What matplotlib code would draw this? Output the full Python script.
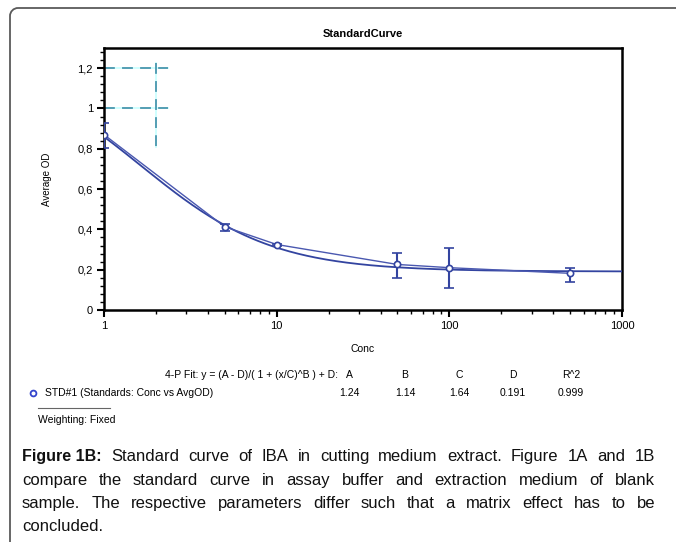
import matplotlib
matplotlib.use("Agg")
import matplotlib.pyplot as plt
import numpy as np
from matplotlib.patches import PathPatch
from matplotlib.path import Path
from matplotlib.ticker import FixedLocator, LogLocator, NullFormatter

plt.rcParams['font.family'] = ['Liberation Sans', 'DejaVu Sans']

# ---- data ----
conc = [1, 5, 10, 50, 100, 500]
avg_od = [0.870, 0.413, 0.325, 0.226, 0.210, 0.182]
err_lo = [0.066, 0.020, 0.006, 0.068, 0.101, 0.043]
err_hi = [0.056, 0.013, 0.004, 0.058, 0.099, 0.026]
fit_params = {"A": 1.24, "B": 1.14, "C": 1.64, "D": 0.191, "R^2": 0.999}
yticks = [0, 0.2, 0.4, 0.6, 0.8, 1.0, 1.2]
ytick_labels = ["0", "0,2", "0,4", "0,6", "0,8", "1", "1,2"]
xticks = [1, 10, 100, 1000]
xtick_labels = ["1", "10", "100", "1000"]
cross_h_y = [1.2, 1.0]
cross_h_x = [1, 2.36]
cross_v_x = 2.0
cross_v_y = [1.227, 0.81]

W, H = 676, 542
fig = plt.figure(figsize=(W / 100, H / 100), dpi=100)
fig.patch.set_facecolor("white")


def fx(px):
    return px / W


def fy(py):
    return 1 - py / H


# outer frame: left line + top line with a rounded corner
r = 8
k = 0.5523 * r
verts = [(10, H + 5), (10, 8 + r), (10, 8 + r - k), (10 + r - k, 8), (10 + r, 8), (W + 5, 8)]
codes = [Path.MOVETO, Path.LINETO, Path.CURVE4, Path.CURVE4, Path.CURVE4, Path.LINETO]
verts = [(fx(a), fy(b)) for a, b in verts]
fig.patches.append(PathPatch(Path(verts, codes), transform=fig.transFigure,
                             facecolor="none", edgecolor="#5a5a5a", lw=1.3))

ax = fig.add_axes([104 / W, (H - 310) / H, (622 - 104) / W, (310 - 48) / H])
ax.set_xscale("log")
ax.set_xlim(1, 1000)
ax.set_ylim(0, 1.3)

blue = "#3344a0"
# 4-PL fit curve
A, B, C, D = fit_params["A"], fit_params["B"], fit_params["C"], fit_params["D"]
xf = np.logspace(0, 3, 300)
yf = (A - D) / (1 + (xf / C) ** B) + D
ax.plot(xf, yf, color=blue, lw=1.3, zorder=3)
# point-connecting line
ax.plot(conc, avg_od, color="#4a58b0", lw=1.0, zorder=3)
ax.errorbar(conc, avg_od, yerr=[err_lo, err_hi], fmt="o", ms=4.5,
            mfc="white", mec=blue, mew=1.2, ecolor=blue, elinewidth=1.5,
            capsize=3.5, capthick=1.5, zorder=4)

# dashed cross marks
for yy in cross_h_y:
    ax.plot(cross_h_x, [yy, yy], color="#ccffff", lw=1.3, zorder=2)
    ax.plot(cross_h_x, [yy, yy], color="#4a96ae", lw=1.3, dashes=(6, 4), zorder=2)
ax.plot([cross_v_x] * 2, cross_v_y, color="#ccffff", lw=1.3, zorder=2)
ax.plot([cross_v_x] * 2, cross_v_y, color="#4a96ae", lw=1.3, dashes=(6, 4), zorder=2)

for s in ax.spines.values():
    s.set_linewidth(1.8)
ax.set_yticks(yticks)
ax.set_yticklabels(ytick_labels, fontsize=8)
ax.yaxis.set_minor_locator(FixedLocator(np.arange(0, 1.31, 0.04)))
ax.set_xticks(xticks)
ax.set_xticklabels(xtick_labels, fontsize=8)
ax.xaxis.set_minor_locator(LogLocator(base=10, subs=np.arange(2, 10)))
ax.xaxis.set_minor_formatter(NullFormatter())
ax.tick_params(which="major", direction="out", length=5, width=1.5, pad=3)
ax.tick_params(which="minor", direction="out", length=3, width=1.0)
ax.set_title("StandardCurve", fontsize=8, fontweight="bold", pad=8)
ax.set_xlabel("Conc", fontsize=7.5, labelpad=9)
ax.set_ylabel("Average OD", fontsize=7, labelpad=18, rotation=90)

# fit legend block
fig.text(fx(338), fy(375), "4-P Fit: y = (A - D)/( 1 + (x/C)^B ) + D:", fontsize=7.5,
         ha="right", va="center")
col_x = [349, 405, 459, 513, 571]
for cx, (kk, v) in zip(col_x, fit_params.items()):
    fig.text(fx(cx), fy(375), kk, fontsize=7.5, ha="center", va="center")
    fig.text(fx(cx), fy(393), f"{v:g}", fontsize=7.5, ha="center", va="center")
fig.text(fx(45), fy(393), "STD#1 (Standards: Conc vs AvgOD)", fontsize=7.5,
         ha="left", va="center")
fig.lines.append(plt.Line2D([fx(33)], [fy(393)], marker="o", ms=4.2, mfc="white",
                            mec="#3344cc", mew=1.3, transform=fig.transFigure))
fig.lines.append(plt.Line2D([fx(38), fx(110)], [fy(408), fy(408)], color="#666666",
                            lw=0.8, transform=fig.transFigure))
fig.text(fx(38), fy(420), "Weighting: Fixed", fontsize=7.5, ha="left", va="center")

# justified caption
cap_lines = [
    [("Figure 1B:", "bold"), ("Standard", "normal"), ("curve", "normal"), ("of", "normal"),
     ("IBA", "normal"), ("in", "normal"), ("cutting", "normal"), ("medium", "normal"),
     ("extract.", "normal"), ("Figure", "normal"), ("1A", "normal"), ("and", "normal"),
     ("1B", "normal")],
    [(w, "normal") for w in "compare the standard curve in assay buffer and extraction medium of blank".split()],
    [(w, "normal") for w in "sample. The respective parameters differ such that a matrix effect has to be".split()],
    [(w, "normal") for w in "concluded.".split()],
]
cap_base = [461, 485, 508, 531]
x_left, x_right = 22, 655
renderer = fig.canvas.get_renderer()
for li, (words, yy) in enumerate(zip(cap_lines, cap_base)):
    texts = []
    widths = []
    for w, wt in words:
        size = 11.5 if wt == "bold" else 12
        t = fig.text(fx(x_left), fy(yy), w, fontsize=size, fontweight=wt,
                     ha="left", va="baseline", color="#111111")
        texts.append(t)
        widths.append(t.get_window_extent(renderer).width)
    last = li == len(cap_lines) - 1
    if last or len(words) == 1:
        gap = 4.0
    else:
        gap = (x_right - x_left - sum(widths)) / (len(words) - 1)
    x = x_left
    for t, wdt in zip(texts, widths):
        t.set_x(fx(x))
        x += wdt + gap

fig.savefig("out.png", dpi=100)
